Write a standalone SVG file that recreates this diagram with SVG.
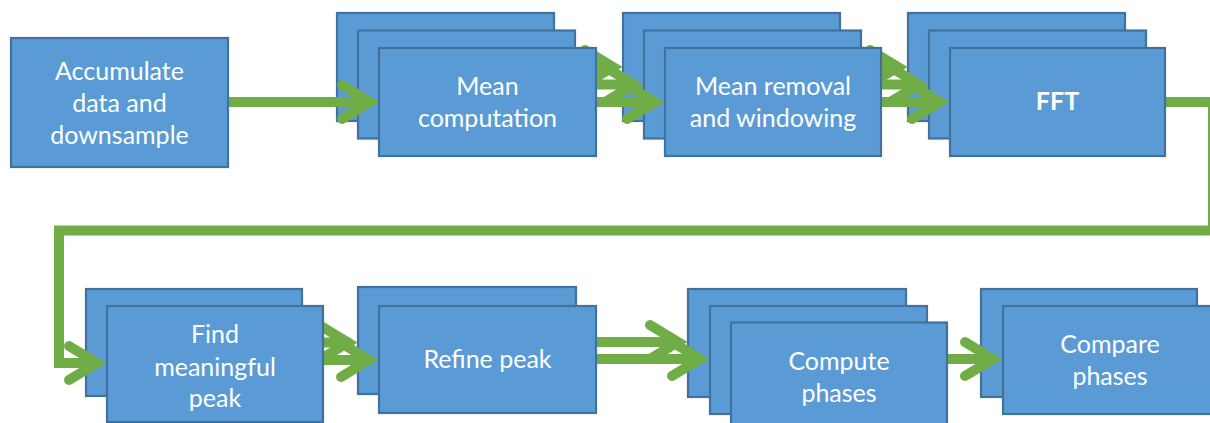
<svg xmlns="http://www.w3.org/2000/svg" xmlns:xlink="http://www.w3.org/1999/xlink" width="1210" height="423" viewBox="0 0 1210 423">
  <style>
    .box { fill: #5B9BD5; stroke: #41719C; stroke-width: 2.2; }
    .lbl { fill: #FFFFFF; font-family: Lato, "Open Sans", "Liberation Sans", sans-serif; font-size: 25px; text-anchor: middle; }
    .bold { font-weight: bold; }
    .wire { fill: none; stroke: #70AD47; stroke-width: 10; stroke-linejoin: miter; }
    .head { fill: none; stroke: #70AD47; stroke-width: 10; stroke-linecap: round; stroke-linejoin: miter; }
  </style>
  <defs>
    <path id="chev" d="M-38,-17 L-10,0 L-38,17"/>
  </defs>
  <rect width="1210" height="423" fill="#FFFFFF"/>

  <!-- back layers of stacked nodes -->
  <g id="n2-stack">
    <rect class="box" x="337" y="13" width="217" height="108"/>
    <rect class="box" x="358" y="30.5" width="217" height="108"/>
  </g>
  <g id="n3-stack">
    <rect class="box" x="623" y="13" width="217" height="108"/>
    <rect class="box" x="644" y="30.5" width="217" height="108"/>
  </g>
  <g id="n4-stack">
    <rect class="box" x="908" y="13" width="217" height="108"/>
    <rect class="box" x="929" y="30.5" width="217" height="108"/>
  </g>
  <g id="n5-stack">
    <rect class="box" x="86" y="289" width="216" height="107"/>
  </g>
  <g id="n6-stack">
    <rect class="box" x="358" y="287" width="218" height="107"/>
  </g>
  <g id="n7-stack">
    <rect class="box" x="688" y="289" width="218" height="108"/>
    <rect class="box" x="710" y="306" width="217" height="108"/>
  </g>
  <g id="n8-stack">
    <rect class="box" x="981" y="289" width="216" height="108"/>
  </g>

  <!-- connectors -->
  <g id="connectors">
    <path class="wire" d="M228,102 H372"/>
    <use href="#chev" class="head" x="380" y="102"/>

    <path class="wire" d="M596,67 H614"/>
    <use href="#chev" class="head" x="623" y="67"/>
    <path class="wire" d="M596,84.5 H635"/>
    <use href="#chev" class="head" x="644" y="84.5"/>
    <path class="wire" d="M596,102 H656"/>
    <use href="#chev" class="head" x="665" y="102"/>

    <path class="wire" d="M881,67 H899"/>
    <use href="#chev" class="head" x="908" y="67"/>
    <path class="wire" d="M881,84.5 H920"/>
    <use href="#chev" class="head" x="929" y="84.5"/>
    <path class="wire" d="M881,102 H941"/>
    <use href="#chev" class="head" x="950" y="102"/>

    <path class="wire" d="M1165,102 H1213 V230.5 H59 V363 H98"/>
    <use href="#chev" class="head" x="107" y="363"/>

    <path class="wire" d="M323,342.5 H350"/>
    <use href="#chev" class="head" x="358" y="342.5"/>
    <path class="wire" d="M323,360 H371"/>
    <use href="#chev" class="head" x="379" y="360"/>

    <path class="wire" d="M596,342 H680"/>
    <use href="#chev" class="head" x="688" y="342"/>
    <path class="wire" d="M596,359 H702"/>
    <use href="#chev" class="head" x="710" y="359"/>

    <path class="wire" d="M947,359 H995"/>
    <use href="#chev" class="head" x="1003" y="359"/>
  </g>

  <!-- front nodes -->
  <g id="n1">
    <rect class="box" x="11" y="38" width="217" height="129"/>
    <text class="lbl" x="119.5" y="80">Accumulate</text>
    <text class="lbl" x="119.5" y="112">data and</text>
    <text class="lbl" x="119.5" y="144">downsample</text>
  </g>
  <g id="n2">
    <rect class="box" x="379" y="48" width="217" height="108"/>
    <text class="lbl" x="487.5" y="95">Mean</text>
    <text class="lbl" x="487.5" y="127">computation</text>
  </g>
  <g id="n3">
    <rect class="box" x="665" y="48" width="216" height="108"/>
    <text class="lbl" x="773" y="95">Mean removal</text>
    <text class="lbl" x="773" y="127">and windowing</text>
  </g>
  <g id="n4">
    <rect class="box" x="950" y="48" width="215" height="108"/>
    <text class="lbl bold" x="1057.5" y="110">FFT</text>
  </g>
  <g id="n5">
    <rect class="box" x="107" y="306" width="216" height="116"/>
    <text class="lbl" x="215" y="343">Find</text>
    <text class="lbl" x="215" y="376">meaningful</text>
    <text class="lbl" x="215" y="407">peak</text>
  </g>
  <g id="n6">
    <rect class="box" x="379" y="306" width="217" height="107"/>
    <text class="lbl" x="487.5" y="368">Refine peak</text>
  </g>
  <g id="n7">
    <rect class="box" x="731" y="322.5" width="216" height="108"/>
    <text class="lbl" x="839" y="370">Compute</text>
    <text class="lbl" x="839" y="402">phases</text>
  </g>
  <g id="n8">
    <rect class="box" x="1003" y="306" width="216" height="108"/>
    <text class="lbl" x="1110" y="353">Compare</text>
    <text class="lbl" x="1110" y="385">phases</text>
  </g>
</svg>
